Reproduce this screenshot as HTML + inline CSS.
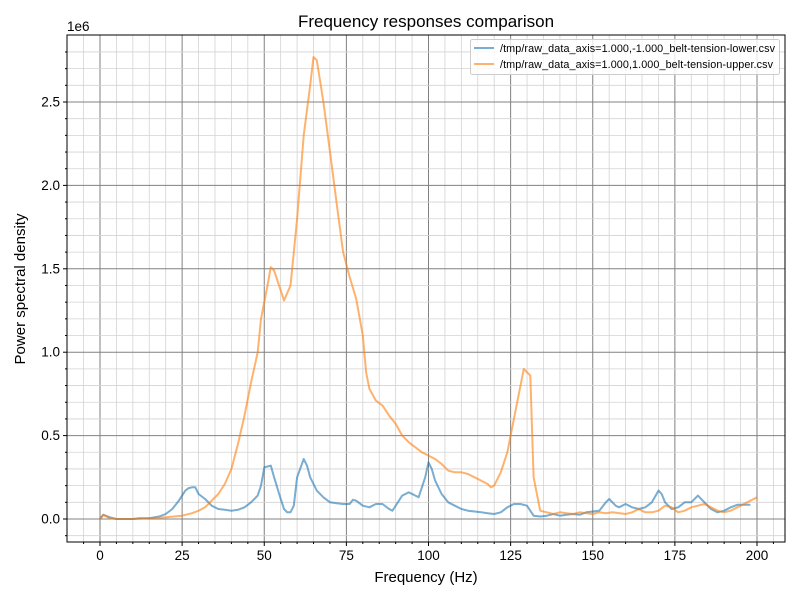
<!DOCTYPE html>
<html><head><style>body{margin:0;background:#fff}svg{font-family:"Liberation Sans","DejaVu Sans",sans-serif}</style></head>
<body>
<svg id="s" width="800" height="600" xmlns="http://www.w3.org/2000/svg">
<rect width="800" height="600" fill="#fff"/>
<g id="grid"></g>
<g id="lines" fill="none" stroke-width="2" stroke-linejoin="round"></g>
<rect x="67" y="35" width="718" height="507" fill="none" stroke="#000" stroke-width="1"/>
<g id="ticks" font-size="13.5" fill="#000"></g>
<text x="426" y="27" font-size="17" text-anchor="middle">Frequency responses comparison</text>
<text x="426" y="582" font-size="15" text-anchor="middle">Frequency (Hz)</text>
<text x="25" y="289" font-size="15" text-anchor="middle" transform="rotate(-90 25 289)">Power spectral density</text>
<text x="67" y="31" font-size="13.5">1e6</text>
<g>
<rect x="470.5" y="39.5" width="309" height="35" fill="#fff" fill-opacity="0.8" stroke="#ccc" rx="2"/>
<line x1="474" y1="48" x2="494" y2="48" stroke="#1f77b4" stroke-opacity="0.6" stroke-width="2"/>
<line x1="474" y1="64" x2="494" y2="64" stroke="#ff7f0e" stroke-opacity="0.6" stroke-width="2"/>
<text x="500" y="52" font-size="10.8" textLength="275">/tmp/raw_data_axis=1.000,-1.000_belt-tension-lower.csv</text>
<text x="500" y="68" font-size="10.8" textLength="273">/tmp/raw_data_axis=1.000,1.000_belt-tension-upper.csv</text>
</g>
</svg>
<script>
const X=f=>100+f*3.285, Y=v=>519-v*166.8;
const g=document.getElementById('grid'),t=document.getElementById('ticks'),L=document.getElementById('lines');
let h='',tk='';
for(let f=-5;f<=205;f+=5){const x=X(f);if(x<67||x>785)continue;const maj=f%25==0;
h+=`<line x1="${x}" y1="35" x2="${x}" y2="542" stroke="${maj?'#808080':'#d3d3d3'}" stroke-width="${maj?1:0.8}"/>`;
tk+=`<line x1="${x}" y1="542" x2="${x}" y2="${maj?546:544}" stroke="#000"/>`;
if(maj)tk+=`<text x="${x}" y="560" text-anchor="middle">${f}</text>`;}
for(let i=-1;i<=28;i++){const v=i/10,y=Y(v);if(y<35||y>542)continue;const maj=i%5==0;
h+=`<line x1="67" y1="${y}" x2="785" y2="${y}" stroke="${maj?'#808080':'#d3d3d3'}" stroke-width="${maj?1:0.8}"/>`;
tk+=`<line x1="67" y1="${y}" x2="${maj?63:65}" y2="${y}" stroke="#000"/>`;
if(maj)tk+=`<text x="60" y="${y+4.5}" text-anchor="end">${v.toFixed(1)}</text>`;}
g.innerHTML=h;t.innerHTML=tk;
const O="0,0;1,0.025;3,0.005;5,0;10,0;15,0.005;20,0.01;25,0.02;28,0.035;30,0.05;32,0.07;34,0.11;36,0.15;38,0.21;40,0.3;42,0.45;44,0.62;46,0.82;48,1.0;49,1.2;51,1.4;52,1.51;53,1.49;55,1.37;56,1.31;58,1.4;60,1.8;62,2.3;64,2.6;65,2.77;66,2.75;68,2.5;70,2.2;72,1.9;74,1.6;76,1.45;78,1.32;80,1.1;81,0.88;82,0.78;84,0.71;86,0.68;88,0.62;90,0.57;92,0.5;94,0.46;96,0.43;98,0.4;100,0.38;102,0.36;104,0.33;106,0.29;108,0.28;110,0.28;112,0.27;114,0.25;116,0.23;118,0.21;119,0.19;120,0.2;122,0.28;124,0.4;126,0.6;128,0.8;129,0.9;131,0.86;132,0.25;134,0.05;136,0.04;138,0.03;140,0.04;142,0.035;144,0.03;146,0.04;148,0.035;150,0.03;152,0.04;154,0.035;156,0.04;160,0.03;162,0.04;164,0.06;166,0.04;168,0.04;170,0.05;172,0.08;174,0.07;176,0.04;178,0.05;180,0.07;182,0.08;184,0.09;186,0.07;188,0.05;190,0.04;192,0.05;194,0.07;196,0.09;198,0.11;200,0.13";
const B="0,0;1,0.025;3,0.01;5,0;10,0;12,0.005;15,0.005;18,0.015;20,0.03;22,0.06;24,0.11;25,0.14;26,0.17;27,0.185;28,0.19;29,0.19;30,0.15;32,0.12;33,0.1;34,0.08;36,0.06;38,0.055;40,0.05;42,0.055;44,0.07;46,0.1;48,0.14;49,0.2;50,0.31;52,0.32;53,0.25;55,0.12;56,0.06;57,0.04;58,0.04;59,0.08;60,0.25;62,0.36;63,0.32;64,0.25;66,0.17;68,0.13;70,0.1;72,0.095;74,0.09;76,0.09;77,0.115;78,0.11;80,0.08;82,0.07;84,0.09;86,0.09;88,0.06;89,0.05;90,0.08;92,0.14;94,0.16;96,0.14;97,0.13;99,0.25;100,0.34;101,0.3;102,0.23;104,0.15;106,0.1;108,0.08;110,0.06;112,0.05;114,0.045;116,0.04;118,0.035;120,0.03;122,0.04;124,0.07;126,0.09;128,0.09;130,0.08;131,0.05;132,0.02;134,0.015;136,0.02;138,0.03;140,0.02;142,0.025;144,0.03;146,0.025;148,0.04;150,0.045;152,0.05;154,0.1;155,0.12;157,0.08;158,0.07;160,0.09;162,0.07;164,0.06;166,0.07;168,0.1;170,0.17;171,0.15;172,0.1;174,0.06;176,0.07;178,0.1;180,0.1;182,0.14;184,0.1;186,0.06;188,0.04;190,0.05;192,0.07;194,0.085;196,0.085;198,0.085";
const P=s=>s.split(';').map(p=>{const[a,b]=p.split(',').map(Number);return X(a).toFixed(1)+','+Y(b).toFixed(1)}).join(' ');
L.innerHTML=`<polyline points="${P(B)}" stroke="#1f77b4" stroke-opacity="0.6"/><polyline points="${P(O)}" stroke="#ff7f0e" stroke-opacity="0.6"/>`;
</script>
</body></html>
